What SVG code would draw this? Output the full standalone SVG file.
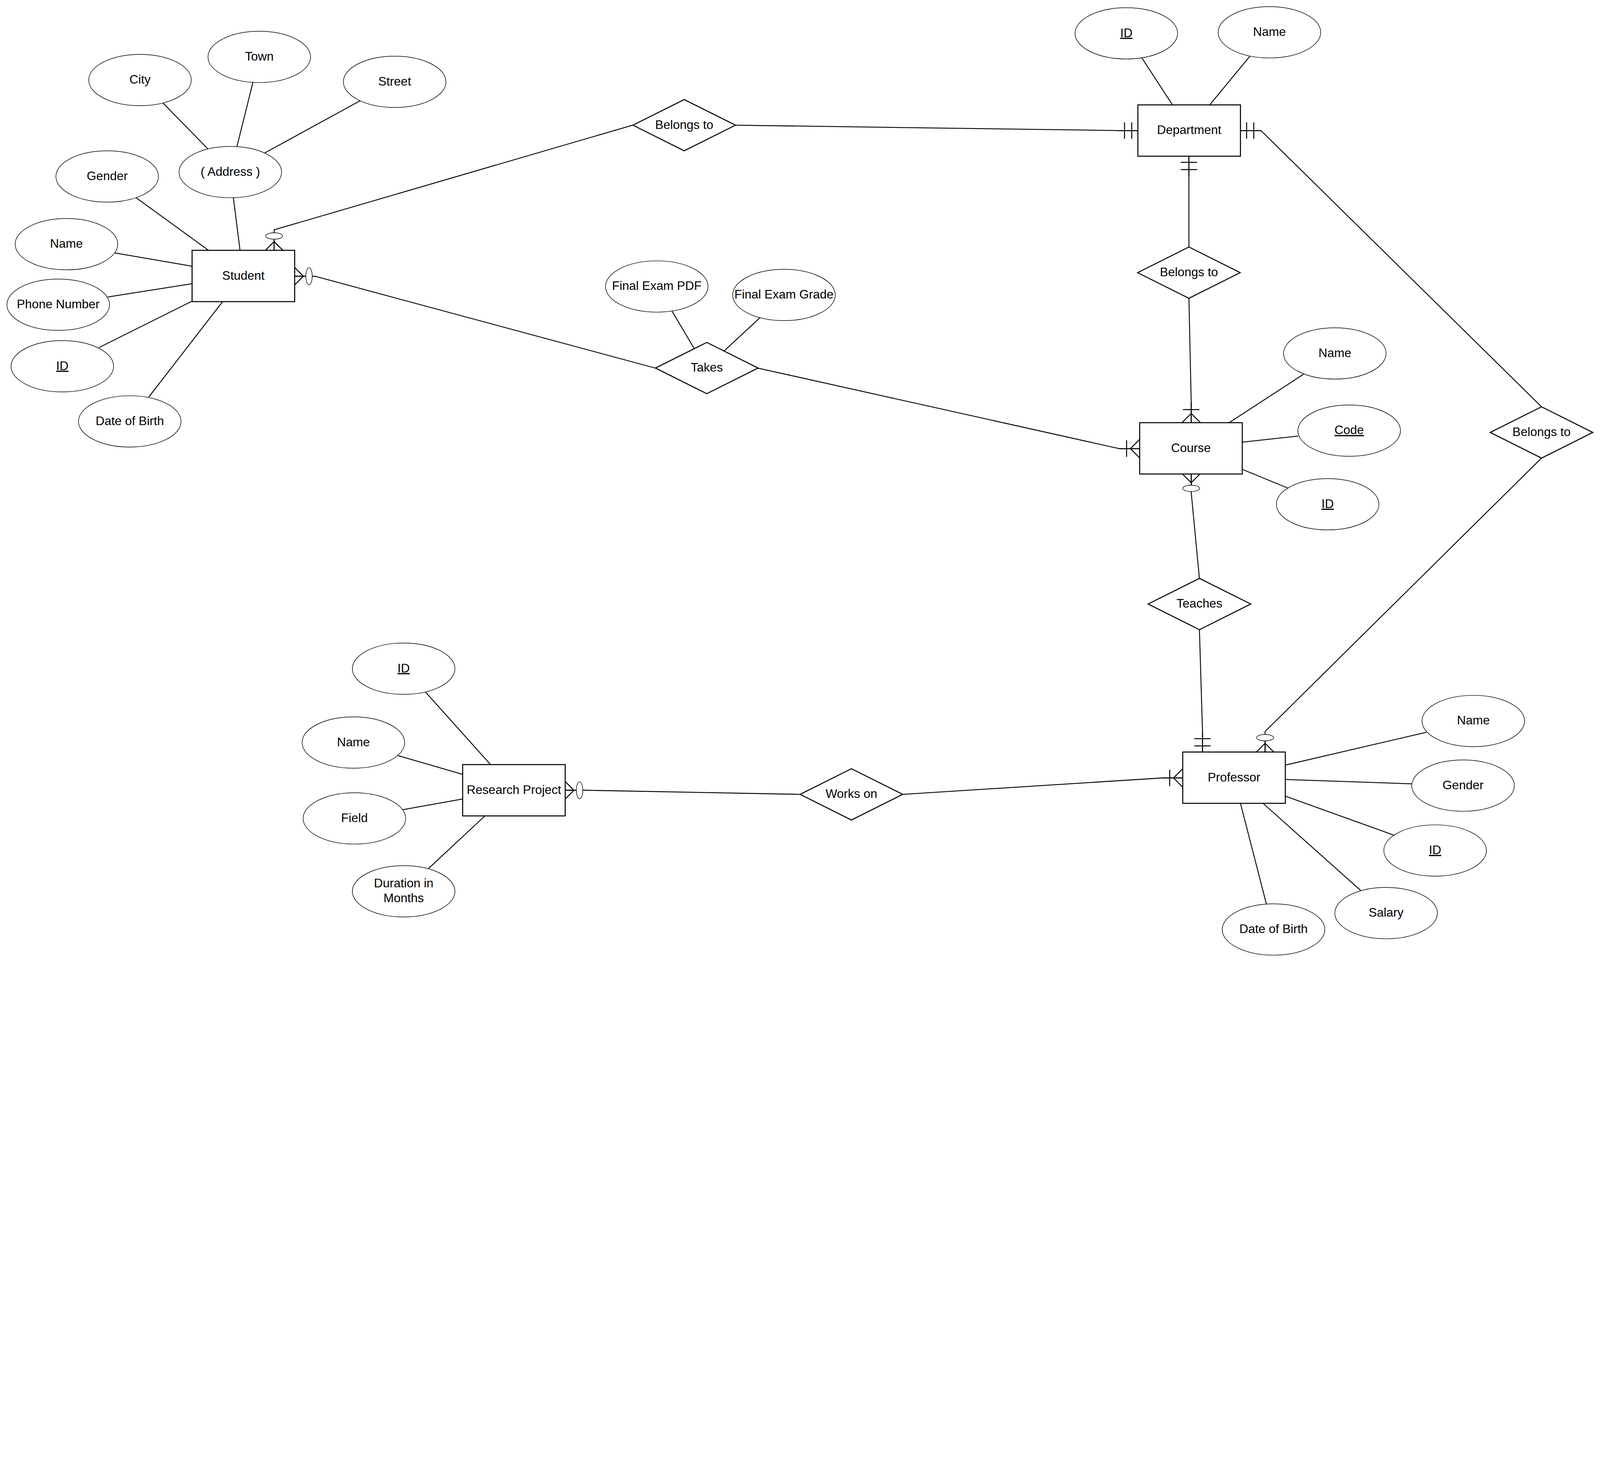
<svg xmlns="http://www.w3.org/2000/svg" xmlns:xlink="http://www.w3.org/1999/xlink" width="6239" height="3752" viewBox="0 0 6239 3752">
<style>
svg:root{width:100vw;height:60.1379vw}
.ent{fill:#fff;stroke:#000;stroke-width:4}
.rel{fill:#fff;stroke:#000;stroke-width:4}
.att{fill:#fff;stroke:#000;stroke-width:2.2}
.ln{fill:none;stroke:#000;stroke-width:3.5}
.mk{fill:none;stroke:#000;stroke-width:3.8}
.mc{fill:#fff;stroke:#000;stroke-width:2.2}
text{font-family:"Liberation Sans",Arial,Helvetica,sans-serif;font-size:48px;fill:#000;text-anchor:middle}
.u{text-decoration:underline}
</style>
<defs>
<g id="m-zm"><path class="mk" d="M0,-34 L34,0 L0,34 M0,0 H45"/><ellipse class="mc" cx="56" cy="0" rx="12.5" ry="33"/></g>
<g id="m-om"><path class="mk" d="M0,-36 L36,0 L0,36 M0,0 H80 M51,-32 V32"/></g>
<g id="m-mo"><path class="mk" d="M0,0 H80 M24,-32 V32 M52,-32 V32"/></g>
</defs>
<rect width="6239" height="3752" fill="#fff"/>
<g id="connectors">
<path class="ln" d="M1069,976 V896 L2467,488"/>
<path class="ln" d="M2868,488 L4357,509 H4437"/>
<path class="ln" d="M1149,1077 H1228 L2555,1435"/>
<path class="ln" d="M2955,1435 L4364,1749 H4444"/>
<path class="ln" d="M4636,609 V689 L4636,963"/>
<path class="ln" d="M4636,1163 L4645,1568 V1648"/>
<path class="ln" d="M4837,509 H4917 L6011,1586"/>
<path class="ln" d="M6011,1786 L4933,2852 V2932"/>
<path class="ln" d="M4645,1848 V1920 L4677,2255"/>
<path class="ln" d="M4677,2455 L4689,2853 V2932"/>
<path class="ln" d="M2204,3081 H2284 L3120,3097"/>
<path class="ln" d="M3520,3097 L4533,3033 H4612"/>
<path class="ln" d="M635,401 L810,580 M986,322 L924,571 M1406,392 L1033,596 M531,771 L813,976 M910,771 L936,976 M448,986 L749,1038 M420,1158 L749,1106 M386,1355 L749,1174 M580,1548 L868,1176"/>
<path class="ln" d="M2621,1214 L2707,1359 M2963,1239 L2823,1369"/>
<path class="ln" d="M4452,225 L4572,409 M4873,220 L4717,409"/>
<path class="ln" d="M5083,1459 L4793,1648 M5062,1700 L4844,1724 M5022,1903 L4844,1830"/>
<path class="ln" d="M5562,2855 L5012,2983 M5505,3056 L5012,3039 M5435,3256 L5012,3104 M5306,3472 L4925,3132 M4938,3524 L4837,3132"/>
<path class="ln" d="M1660,2699 L1912,2980 M1552,2946 L1804,3019 M1570,3157 L1804,3115 M1670,3387 L1892,3180"/>
<use xlink:href="#m-zm" transform="translate(1069,976) rotate(-90)"/>
<use xlink:href="#m-mo" transform="translate(4437,509) rotate(180)"/>
<use xlink:href="#m-zm" transform="translate(1149,1077)"/>
<use xlink:href="#m-om" transform="translate(4444,1749) rotate(180)"/>
<use xlink:href="#m-mo" transform="translate(4636,609) rotate(90)"/>
<use xlink:href="#m-om" transform="translate(4645,1648) rotate(-90)"/>
<use xlink:href="#m-mo" transform="translate(4837,509)"/>
<use xlink:href="#m-zm" transform="translate(4933,2932) rotate(-90)"/>
<use xlink:href="#m-zm" transform="translate(4645,1848) rotate(90)"/>
<use xlink:href="#m-mo" transform="translate(4689,2932) rotate(-90)"/>
<use xlink:href="#m-zm" transform="translate(2204,3081)"/>
<use xlink:href="#m-om" transform="translate(4612,3033) rotate(180)"/>
</g>
<g id="student"><rect class="ent" x="749" y="976" width="400" height="200"/><text x="949" y="1090">Student</text></g>
<g id="st-city"><ellipse class="att" cx="546" cy="312" rx="200" ry="100"/><text x="546" y="326">City</text></g>
<g id="st-town"><ellipse class="att" cx="1011" cy="222" rx="200" ry="100"/><text x="1011" y="236">Town</text></g>
<g id="st-street"><ellipse class="att" cx="1539" cy="319" rx="200" ry="100"/><text x="1539" y="333">Street</text></g>
<g id="st-gender"><ellipse class="att" cx="418" cy="688" rx="200" ry="100"/><text x="418" y="702">Gender</text></g>
<g id="st-address"><ellipse class="att" cx="898" cy="671" rx="200" ry="100"/><text x="898" y="685">( Address )</text></g>
<g id="st-name"><ellipse class="att" cx="259" cy="952" rx="200" ry="100"/><text x="259" y="966">Name</text></g>
<g id="st-phone"><ellipse class="att" cx="227" cy="1188" rx="200" ry="100"/><text x="227" y="1202">Phone Number</text></g>
<g id="st-id"><ellipse class="att" cx="243" cy="1428" rx="200" ry="100"/><text class="u" x="243" y="1442">ID</text></g>
<g id="st-dob"><ellipse class="att" cx="506" cy="1643" rx="200" ry="100"/><text x="506" y="1657">Date of Birth</text></g>
<g id="rel-belongs-dept"><polygon class="rel" points="2468,488 2668,388 2868,488 2668,588"/><text x="2668" y="502">Belongs to</text></g>
<g id="rel-takes"><polygon class="rel" points="2556,1435 2756,1335 2956,1435 2756,1535"/><text x="2756" y="1449">Takes</text></g>
<g id="tk-pdf"><ellipse class="att" cx="2561" cy="1117" rx="200" ry="100"/><text x="2561" y="1131">Final Exam PDF</text></g>
<g id="tk-grade"><ellipse class="att" cx="3057" cy="1150" rx="200" ry="100"/><text x="3057" y="1164">Final Exam Grade</text></g>
<g id="department"><rect class="ent" x="4437" y="409" width="400" height="200"/><text x="4637" y="523">Department</text></g>
<g id="dp-id"><ellipse class="att" cx="4392" cy="130" rx="200" ry="100"/><text class="u" x="4392" y="144">ID</text></g>
<g id="dp-name"><ellipse class="att" cx="4950" cy="126" rx="200" ry="100"/><text x="4950" y="140">Name</text></g>
<g id="rel-belongs-course"><polygon class="rel" points="4436,1063 4636,963 4836,1063 4636,1163"/><text x="4636" y="1077">Belongs to</text></g>
<g id="course"><rect class="ent" x="4444" y="1648" width="400" height="200"/><text x="4644" y="1762">Course</text></g>
<g id="co-name"><ellipse class="att" cx="5205" cy="1378" rx="200" ry="100"/><text x="5205" y="1392">Name</text></g>
<g id="co-code"><ellipse class="att" cx="5261" cy="1679" rx="200" ry="100"/><text class="u" x="5261" y="1693">Code</text></g>
<g id="co-id"><ellipse class="att" cx="5177" cy="1966" rx="200" ry="100"/><text class="u" x="5177" y="1980">ID</text></g>
<g id="rel-belongs-prof"><polygon class="rel" points="5811,1686 6011,1586 6211,1686 6011,1786"/><text x="6011" y="1700">Belongs to</text></g>
<g id="rel-teaches"><polygon class="rel" points="4477,2355 4677,2255 4877,2355 4677,2455"/><text x="4677" y="2369">Teaches</text></g>
<g id="professor"><rect class="ent" x="4612" y="2932" width="400" height="200"/><text x="4812" y="3046">Professor</text></g>
<g id="pr-name"><ellipse class="att" cx="5745" cy="2811" rx="200" ry="100"/><text x="5745" y="2825">Name</text></g>
<g id="pr-gender"><ellipse class="att" cx="5705" cy="3063" rx="200" ry="100"/><text x="5705" y="3077">Gender</text></g>
<g id="pr-id"><ellipse class="att" cx="5596" cy="3316" rx="200" ry="100"/><text class="u" x="5596" y="3330">ID</text></g>
<g id="pr-salary"><ellipse class="att" cx="5405" cy="3560" rx="200" ry="100"/><text x="5405" y="3574">Salary</text></g>
<g id="pr-dob"><ellipse class="att" cx="4966" cy="3624" rx="200" ry="100"/><text x="4966" y="3638">Date of Birth</text></g>
<g id="rel-works"><polygon class="rel" points="3120,3097 3320,2997 3520,3097 3320,3197"/><text x="3320" y="3111">Works on</text></g>
<g id="research-project"><rect class="ent" x="1804" y="2981" width="400" height="200"/><text x="2004" y="3095">Research Project</text></g>
<g id="rp-id"><ellipse class="att" cx="1574" cy="2607" rx="200" ry="100"/><text class="u" x="1574" y="2621">ID</text></g>
<g id="rp-name"><ellipse class="att" cx="1378" cy="2895" rx="200" ry="100"/><text x="1378" y="2909">Name</text></g>
<g id="rp-field"><ellipse class="att" cx="1382" cy="3191" rx="200" ry="100"/><text x="1382" y="3205">Field</text></g>
<g id="rp-duration"><ellipse class="att" cx="1574" cy="3475" rx="200" ry="100"/><text x="1574" y="3460">Duration in</text><text x="1574" y="3518">Months</text></g>
</svg>
